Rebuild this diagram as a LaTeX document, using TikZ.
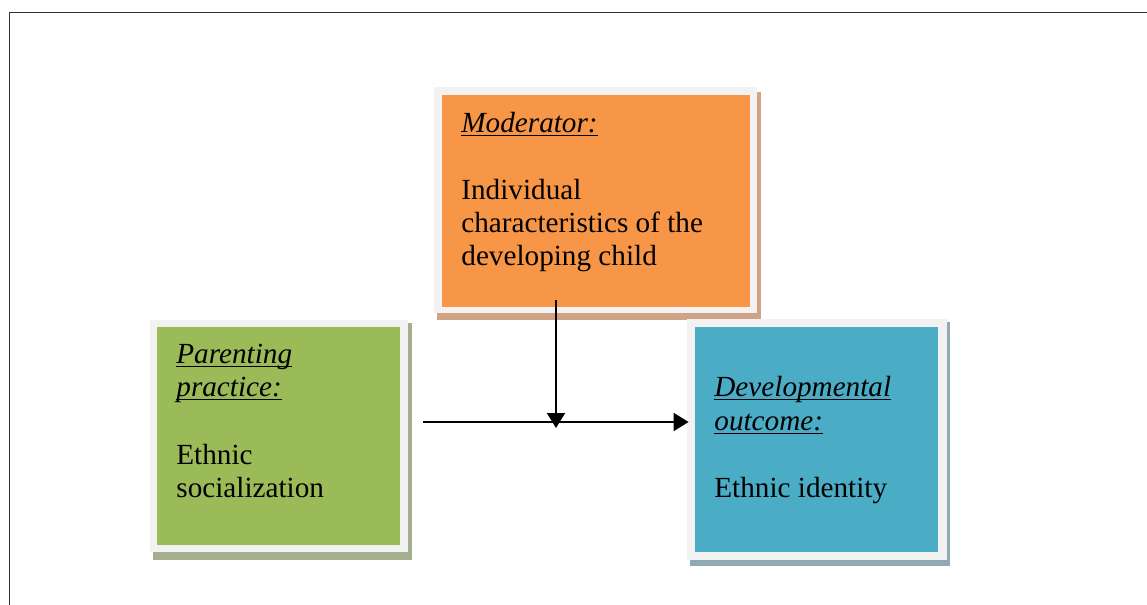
\documentclass[tikz,border=0pt]{standalone}
\usepackage{fontspec}
\setmainfont{Liberation Serif}
\usetikzlibrary{arrows.meta}
\definecolor{orangefill}{HTML}{F79646}
\definecolor{greenfill}{HTML}{9BBB59}
\definecolor{bluefill}{HTML}{4BACC6}
\definecolor{framegray}{HTML}{F2F2F2}
\definecolor{orangeshadow}{HTML}{D0A386}
\definecolor{greenshadow}{HTML}{A4AF8E}
\definecolor{blueshadow}{HTML}{90AAB5}
\newcommand\ulword[1]{\setbox0\hbox{\itshape #1}\rlap{\rule[-2.2pt]{\wd0}{0.8pt}}\box0}
\begin{document}
\begin{tikzpicture}[x=0.5pt,y=-0.5pt,
  txt/.style={anchor=base west, inner sep=0pt, font=\fontsize{14.6pt}{16.8pt}\selectfont},
  colbox/.style={rectangle, inner sep=0pt, draw=none},
  conn/.style={line width=1pt, -{Triangle[length=7.5pt,width=9pt]}}]
\useasboundingbox (0,0) rectangle (1147,605);
\draw[line width=0.8pt, draw=black!80] (9.5,605) -- (9.5,12.5) -- (1147,12.5);

% shadows and frames
\fill[orangeshadow] (437,92) rectangle (761,320);
\fill[framegray] (434,87) rectangle (757,313);
\fill[greenshadow] (153,323) rectangle (412,560);
\fill[framegray] (150,320) rectangle (408,552);
\fill[blueshadow] (690,322) rectangle (950,566);
\fill[framegray] (687,319) rectangle (947,560);

% coloured boxes
\node[colbox, fill=orangefill, minimum width=154pt, minimum height=106pt] (mod) at (596,201) {};
\node[colbox, fill=greenfill, minimum width=121.5pt, minimum height=109pt] (par) at (278.5,436) {};
\node[colbox, fill=bluefill, minimum width=121.5pt, minimum height=112.5pt] (outc) at (816.5,439.5) {};

% texts
\node[txt] (m1) at (461,132) {\ulword{Moderator:}};
\node[txt] (m2) at (461,199) {Individual};
\node[txt] (m3) at (461,232) {characteristics of the};
\node[txt] (m4) at (461,265) {developing child};

\node[txt] (p1) at (176,363) {\ulword{Parenting}};
\node[txt] (p2) at (176,396) {\ulword{practice:}};
\node[txt] (p3) at (176,464) {Ethnic};
\node[txt] (p4) at (176,497) {socialization};

\node[txt] (o1) at (714,396) {\ulword{Developmental}};
\node[txt] (o2) at (714,430) {\ulword{outcome:}};
\node[txt] (o3) at (714,497) {Ethnic identity};

% connectors
\coordinate (hstart) at (423,422);
\coordinate (hend) at ([xshift=-3pt]outc.west |- hstart);
\coordinate (vstart) at (556,300);
\coordinate (vend) at (556,428);
\draw[conn] (hstart) -- (hend);
\draw[conn] (vstart) -- (vend);
\end{tikzpicture}
\end{document}
